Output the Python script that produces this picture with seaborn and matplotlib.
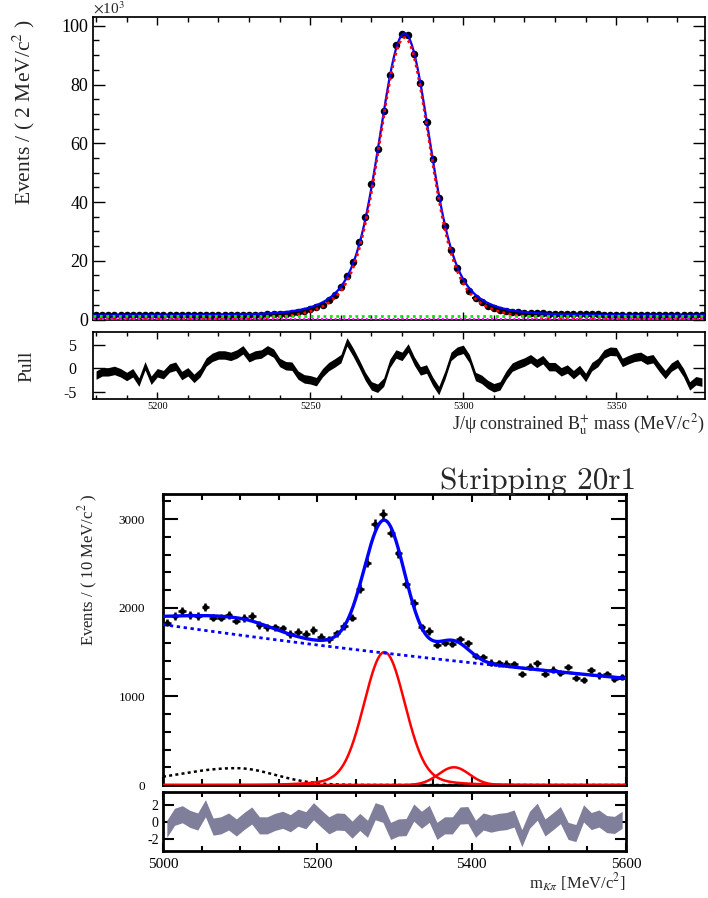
import numpy as np
import pandas as pd
import matplotlib
matplotlib.use("Agg")
import matplotlib.pyplot as plt
import seaborn as sns
from matplotlib.ticker import MultipleLocator, FixedLocator

# ---------------- upper fit: J/psi constrained B+ mass ----------------
top_lo, top_hi, top_bin = 5179.0, 5379.0, 2.0
top_mass = np.arange(top_lo + top_bin / 2, top_hi, top_bin)          # bin centres
top_events = np.array([                                               # x 10^3 per bin
    1.42, 1.40, 1.43, 1.39, 1.41, 1.44, 1.40, 1.38, 1.42, 1.41,
    1.39, 1.43, 1.40, 1.42, 1.44, 1.41, 1.43, 1.45,
    1.47, 1.49, 1.50, 1.53, 1.55, 1.57, 1.60, 1.63, 1.66, 1.70,
    1.75, 1.80, 1.90, 2.00, 2.20, 2.50,
    2.95, 3.50, 4.10, 5.10, 6.50, 8.40, 11.0, 14.8, 19.6, 26.4,
    34.9, 46.0, 58.0, 71.1, 83.3, 93.5, 97.3, 97.0, 90.3, 80.4,
    67.3, 54.6, 41.4, 31.8, 23.8, 17.5, 13.0,
    9.70, 7.40, 5.80, 4.70, 4.00, 3.40, 3.00, 2.70, 2.50, 2.35,
    2.25, 2.15, 2.08, 2.02, 1.97, 1.92, 1.88, 1.84, 1.80, 1.77,
    1.74, 1.71, 1.68, 1.66, 1.64, 1.62, 1.60, 1.58, 1.56, 1.55,
    1.54, 1.52, 1.51, 1.50, 1.49, 1.48, 1.47, 1.46, 1.45,
])
top_pull = np.array([
    -1.5, -0.8, -0.8, -0.5, -1.0, -1.8, -1.0, -3.0, 0.5, -2.6,
    -1.0, -1.4, 0.0, 0.4, -1.6, -0.8, -2.2, -1.0, 1.3, 2.3,
    2.8, 2.8, 2.5, 3.0, 3.9, 2.2, 2.8, 3.0, 3.9, 3.2,
    1.2, 0.5, 0.4, -1.5, -2.3, -2.5, -2.9, -1.0, 0.3, 1.1,
    2.0, 5.6, 3.4, 0.9, -1.8, -3.8, -4.3, -3.0, 1.0, 3.0,
    2.5, 4.3, 1.5, -0.6, -0.2, -2.8, -4.8, -1.5, 2.5, 3.6,
    4.0, 2.0, -1.8, -2.4, -3.5, -4.2, -3.8, -1.5, 0.2, 0.8,
    1.3, 2.0, 1.0, 1.8, 0.3, 0.3, -0.8, -0.2, -1.4, -0.3,
    -2.0, 0.3, 1.2, 3.0, 3.6, 3.5, 1.2, 1.8, 2.3, 2.5,
    1.7, 2.0, 0.2, -1.4, 0.2, 1.0, -1.0, -3.8, -2.7, -3.0,
])
# fit components (x 10^3): triple-Gaussian signal, flat backgrounds
top_sig_mean = 5280.8
top_sig_amps = [71.0, 22.0, 3.0]
top_sig_widths = [7.5, 13.0, 25.0]
top_comb_level = 1.1
top_other_level = 0.3

# ---------------- lower fit: m(K pi), Stripping 20r1 ----------------
bot_lo, bot_hi, bot_bin = 5000.0, 5600.0, 10.0
bot_mass = np.arange(bot_lo + bot_bin / 2, bot_hi, bot_bin)
bot_events = np.array([
    1832, 1907, 1967, 1919, 1907, 2005, 1890, 1890, 1919, 1855,
    1881, 1907, 1806, 1780, 1780, 1768, 1704, 1730, 1704, 1749,
    1674, 1644, 1712, 1794, 1890, 2216, 2509, 2946, 3059, 2848,
    2615, 2269, 2051, 1778, 1740, 1585, 1606, 1595, 1644, 1599,
    1456, 1440, 1382, 1373, 1370, 1366, 1253, 1335, 1373, 1253,
    1302, 1260, 1330, 1212, 1188, 1298, 1236, 1256, 1198, 1222,
])
bot_pull = np.array([
    -0.8, 0.6, 0.9, 0.35, 0.05, 1.6, -0.55, -0.4, 0.05, -0.65,
    0.1, 0.75, -0.4, -0.4, 0.0, 0.25, -0.15, 0.5, 0.2, 1.25,
    0.4, -0.4, 0.05, 0.0, -0.9, 0.0, -0.8, 1.25, 0.95, -1.05,
    -0.65, -0.6, 1.1, 0.25, 0.95, -1.05, -0.4, -0.4, 0.75, 0.8,
    -0.8, 0.05, -0.2, 0.0, 0.1, 0.4, -1.9, 0.25, 1.2, -0.65,
    0.05, 0.8, -1.05, -1.3, 1.0, 0.1, 0.4, -0.25, -0.35, 0.25,
])
bkg_norm, bkg_slope = 1810.0, -0.00068          # exponential combinatorial
sig_mean, sig_amps, sig_widths = 5287.0, [1420.0, 80.0], [26.0, 60.0]
sig2_mean, sig2_amp, sig2_width = 5377.0, 200.0, 20.0
part_mean, part_amp, part_wl, part_wr = 5095.0, 190.0, 80.0, 50.0


def gauss(x, mu, a, s):
    return a * np.exp(-0.5 * ((x - mu) / s) ** 2)


# ---------------- style ----------------
sns.set_theme(style="ticks")
plt.rcParams['font.family'] = ['Liberation Serif', 'DejaVu Serif']
plt.rcParams['mathtext.fontset'] = 'stix'
plt.rcParams['axes.unicode_minus'] = False
plt.rcParams['axes.edgecolor'] = 'black'
plt.rcParams['xtick.color'] = 'black'
plt.rcParams['ytick.color'] = 'black'

W, H = 708, 898
fig = plt.figure(figsize=(W / 100, H / 100), dpi=100)


def box(x0, y0, x1, y1):
    return [x0 / W, 1 - y1 / H, (x1 - x0) / W, (y1 - y0) / H]


ax1 = fig.add_axes(box(93, 17, 705, 319.5))
ax1p = fig.add_axes(box(93, 332, 705, 399))
ax2 = fig.add_axes(box(163, 494, 626, 785))
ax2p = fig.add_axes(box(163, 792, 626, 851))

# ---------- upper main panel ----------
mf = np.linspace(top_lo, top_hi, 1001)
sig_top = sum(gauss(mf, top_sig_mean, a, s) for a, s in zip(top_sig_amps, top_sig_widths))
comb_top = np.full_like(mf, top_comb_level)
other_top = np.full_like(mf, top_other_level)
tot_top = sig_top + comb_top + other_top

ax1.errorbar(top_mass, top_events, xerr=top_bin / 2,
             yerr=np.sqrt(top_events * 1000) / 1000,
             fmt='o', ms=4.4, color='black', elinewidth=1.4, capsize=0, zorder=2)
df_top = pd.DataFrame({'m': mf, 'tot': tot_top, 'sig': sig_top,
                       'comb': comb_top, 'other': other_top})
sns.lineplot(data=df_top, x='m', y='tot', ax=ax1, color='#0000ff', lw=1.6, zorder=3)
sns.lineplot(data=df_top, x='m', y='sig', ax=ax1, color='#ff0000', lw=2.0,
             linestyle=(0, (1, 1.3)), zorder=4)
sns.lineplot(data=df_top, x='m', y='comb', ax=ax1, color='#00ee00', lw=2.0,
             linestyle=(0, (1, 1.3)), zorder=4)
sns.lineplot(data=df_top, x='m', y='other', ax=ax1, color='#ff00ff', lw=1.4,
             linestyle=(0, (1, 1.3)), zorder=4)
ax1.set_xlim(top_lo, top_hi)
ax1.set_ylim(0, 103)
ax1.xaxis.set_major_locator(MultipleLocator(50))
ax1.xaxis.set_minor_locator(MultipleLocator(10))
ax1.yaxis.set_major_locator(MultipleLocator(20))
ax1.yaxis.set_minor_locator(MultipleLocator(5))
ax1.tick_params(which='both', direction='in', top=True, right=True, width=1)
ax1.tick_params(axis='y', which='major', length=8.5, labelsize=13)
ax1.tick_params(axis='y', which='minor', length=4.5)
ax1.tick_params(axis='x', which='major', length=6, labelbottom=False)
ax1.tick_params(axis='x', which='minor', length=3.5)
ax1.set_xlabel('')
ax1.set_ylabel('')
fig.text(24 / W, 1 - 112 / H, 'Events / ( 2 MeV/c$^2$ )', rotation=90,
         ha='center', va='center', fontsize=15.5)
fig.text(93 / W, 1 - 8 / H, r'$\times$10$^3$', ha='left', va='center', fontsize=11)

# ---------- upper pull panel ----------
ax1p.fill_between(top_mass, top_pull - 0.9, top_pull + 0.9, color='black', lw=0)
ax1p.set_xlim(top_lo, top_hi)
ax1p.set_ylim(-6.6, 7.7)
ax1p.xaxis.set_major_locator(MultipleLocator(50))
ax1p.xaxis.set_minor_locator(MultipleLocator(10))
ax1p.yaxis.set_major_locator(FixedLocator([-5, 0, 5]))
ax1p.tick_params(which='both', direction='in', top=True, right=True, width=1)
ax1p.tick_params(axis='y', which='major', length=8.5, labelsize=11.5, pad=12)
ax1p.tick_params(axis='x', which='major', length=5, labelsize=7.5, pad=2)
ax1p.tick_params(axis='x', which='minor', length=3)
fig.text(27 / W, 1 - 366 / H, 'Pull', rotation=90, ha='center', va='center', fontsize=14)
fig.text(705 / W, 1 - 412 / H, 'J/ψ constrained B$_{\\rm u}^{+}$ mass (MeV/c$^2$)',
         ha='right', va='top', fontsize=13)

# ---------- lower main panel ----------
mf2 = np.linspace(bot_lo, bot_hi, 1201)
bkg = bkg_norm * np.exp(bkg_slope * (mf2 - bot_lo))
sig1 = sum(gauss(mf2, sig_mean, a, s) for a, s in zip(sig_amps, sig_widths))
sig2 = gauss(mf2, sig2_mean, sig2_amp, sig2_width)
part = np.where(mf2 < part_mean,
                gauss(mf2, part_mean, part_amp, part_wl),
                gauss(mf2, part_mean, part_amp, part_wr))
tot = bkg + sig1 + sig2 + part
df_bot = pd.DataFrame({'m': mf2, 'bkg': bkg, 'sig1': sig1, 'sig2': sig2,
                       'part': part, 'tot': tot})

ax2.errorbar(bot_mass, bot_events, xerr=bot_bin / 2, yerr=np.sqrt(bot_events),
             fmt='o', ms=3, color='black', elinewidth=1.8, capsize=0, zorder=2)
sns.lineplot(data=df_bot, x='m', y='part', ax=ax2, color='black', lw=1.8,
             linestyle=(0, (1.2, 1.3)), zorder=3)
sns.lineplot(data=df_bot, x='m', y='sig1', ax=ax2, color='#ff0000', lw=1.8, zorder=3)
sns.lineplot(data=df_bot, x='m', y='sig2', ax=ax2, color='#ff0000', lw=1.8, zorder=3)
sns.lineplot(data=df_bot, x='m', y='bkg', ax=ax2, color='#0000ff', lw=2.0,
             linestyle=(0, (1.2, 1.3)), zorder=3)
sns.lineplot(data=df_bot, x='m', y='tot', ax=ax2, color='#0000ff', lw=2.4, zorder=4)
ax2.set_xlim(bot_lo, bot_hi)
ax2.set_ylim(0, 3284)
ax2.xaxis.set_major_locator(MultipleLocator(200))
ax2.xaxis.set_minor_locator(MultipleLocator(50))
ax2.yaxis.set_major_locator(MultipleLocator(1000))
ax2.yaxis.set_minor_locator(MultipleLocator(200))
ax2.tick_params(which='both', direction='in', top=True, right=True, width=1.5)
ax2.tick_params(axis='y', which='major', length=11, labelsize=9.5, pad=13)
ax2.tick_params(axis='y', which='minor', length=5.5)
ax2.tick_params(axis='x', which='major', length=6, labelbottom=False)
ax2.tick_params(axis='x', which='minor', length=4)
ax2.set_xlabel('')
ax2.set_ylabel('')
for s in ax2.spines.values():
    s.set_linewidth(2)
fig.text(88 / W, 1 - 570 / H, 'Events / ( 10 MeV/c$^2$ )', rotation=90,
         ha='center', va='center', fontsize=12)
fig.text(636 / W, 1 - 489 / H, 'Stripping 20r1', ha='right', va='baseline',
         fontsize=22.5, fontname='cmr10')

# ---------- lower pull panel ----------
ax2p.fill_between(bot_mass, bot_pull - 1.0, bot_pull + 1.0, color='#7f7f9b', lw=0)
ax2p.set_xlim(bot_lo, bot_hi)
ax2p.set_ylim(-3.4, 3.5)
ax2p.xaxis.set_major_locator(MultipleLocator(200))
ax2p.xaxis.set_minor_locator(MultipleLocator(50))
ax2p.yaxis.set_major_locator(FixedLocator([-2, 0, 2]))
ax2p.tick_params(which='both', direction='in', top=True, right=True, width=1.5)
ax2p.tick_params(axis='y', which='major', length=8, labelsize=10, pad=3)
ax2p.tick_params(axis='x', which='major', length=6, labelsize=11, pad=5)
ax2p.tick_params(axis='x', which='minor', length=3.5)
for s in ax2p.spines.values():
    s.set_linewidth(2)
fig.text(626 / W, 1 - 883 / H, r'm$_{K\pi}$ [MeV/c$^2$]', ha='right', va='center',
         fontsize=12)

fig.savefig('out.png', dpi=100)
